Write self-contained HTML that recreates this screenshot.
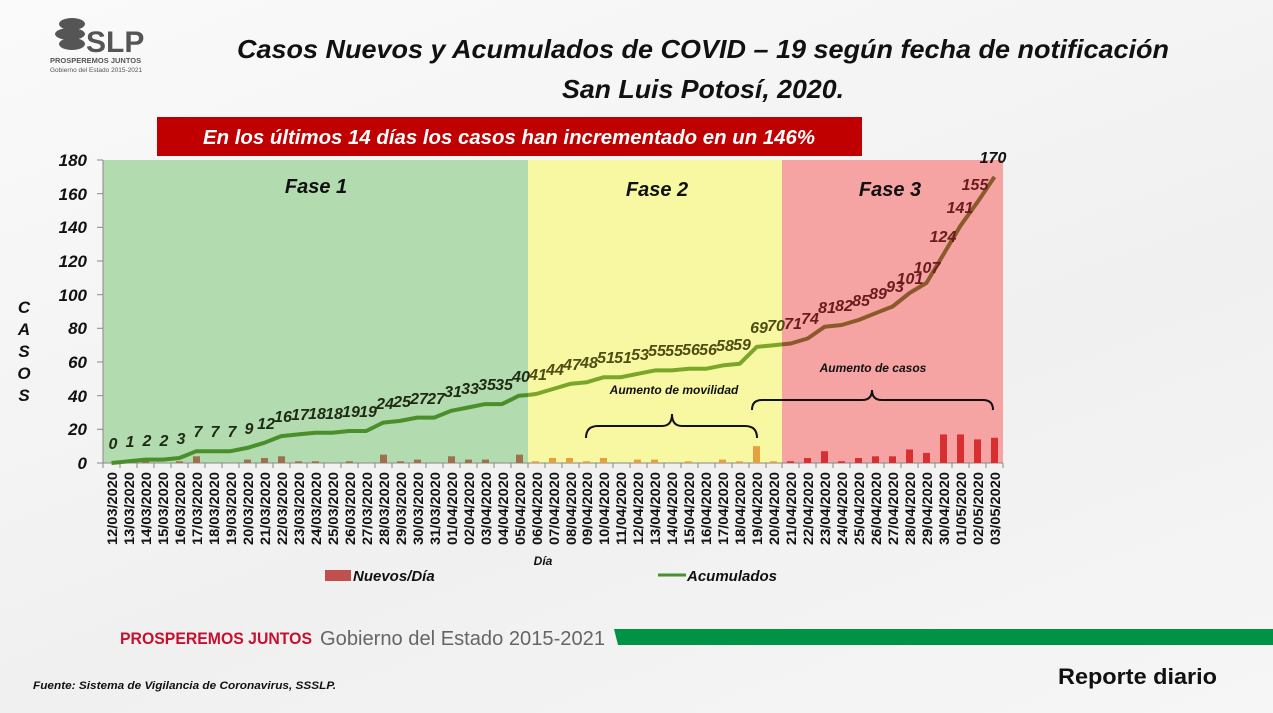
<!DOCTYPE html>
<html><head><meta charset="utf-8"><style>
body{margin:0;width:1273px;height:713px;overflow:hidden;background:linear-gradient(160deg,#fafafa,#f0f0f0 60%,#f6f6f6);font-family:"Liberation Sans",sans-serif;}
svg{position:absolute;left:0;top:0}
</style></head><body>
<svg width="1273" height="713" viewBox="0 0 1273 713" font-family="Liberation Sans, sans-serif">
<!-- logo -->
<g fill="#555">
<ellipse cx="72" cy="24" rx="13" ry="6"/><ellipse cx="70" cy="34" rx="15" ry="6"/><ellipse cx="72" cy="44" rx="13" ry="6"/>
<text x="86" y="52" font-size="30" font-weight="bold" fill="#555">SLP</text>
<text x="50" y="63" font-size="7.5" font-weight="bold">PROSPEREMOS JUNTOS</text>
<text x="50" y="72" font-size="6.5">Gobierno del Estado 2015-2021</text>
</g>
<!-- title -->
<text x="703" y="58" text-anchor="middle" font-size="26" font-weight="bold" font-style="italic" fill="#111" textLength="932" lengthAdjust="spacingAndGlyphs">Casos Nuevos y Acumulados de COVID – 19 según fecha de notificación</text>
<text x="703" y="98" text-anchor="middle" font-size="26" font-weight="bold" font-style="italic" fill="#111" textLength="282" lengthAdjust="spacingAndGlyphs">San Luis Potosí, 2020.</text>
<rect x="157" y="117" width="705" height="39" fill="#c00000"/>
<text x="509" y="144" text-anchor="middle" font-size="20" font-weight="bold" font-style="italic" fill="#fff" textLength="612" lengthAdjust="spacingAndGlyphs">En los últimos 14 días los casos han incrementado en un 146%</text>
<!-- phases -->
<rect x="103" y="160" width="425" height="303" fill="#b3dbb0"/>
<rect x="528" y="160" width="254" height="303" fill="#f8f8a2"/>
<rect x="782" y="160" width="221" height="303" fill="#f5a3a3"/>
<text x="316" y="193" text-anchor="middle" font-size="20" font-weight="bold" font-style="italic" fill="#111">Fase 1</text>
<text x="657" y="196" text-anchor="middle" font-size="20" font-weight="bold" font-style="italic" fill="#111">Fase 2</text>
<text x="890" y="196" text-anchor="middle" font-size="20" font-weight="bold" font-style="italic" fill="#111">Fase 3</text>
<!-- axes -->
<g stroke="#888" stroke-width="1">
<line x1="103" y1="160" x2="103" y2="463"/><line x1="103" y1="463" x2="1003" y2="463"/>
<line x1="97" y1="160" x2="103" y2="160"/><line x1="97" y1="193.7" x2="103" y2="193.7"/><line x1="97" y1="227.3" x2="103" y2="227.3"/><line x1="97" y1="261" x2="103" y2="261"/><line x1="97" y1="294.7" x2="103" y2="294.7"/><line x1="97" y1="328.3" x2="103" y2="328.3"/><line x1="97" y1="362" x2="103" y2="362"/><line x1="97" y1="395.7" x2="103" y2="395.7"/><line x1="97" y1="429.3" x2="103" y2="429.3"/><line x1="97" y1="463" x2="103" y2="463"/>
</g>
<path stroke="#888" stroke-width="1" d="M103,463v5M120,463v5M137,463v5M154,463v5M171,463v5M188,463v5M205,463v5M222,463v5M239,463v5M256,463v5M273,463v5M290,463v5M307,463v5M324,463v5M341,463v5M358,463v5M375,463v5M392,463v5M409,463v5M426,463v5M443,463v5M460,463v5M477,463v5M494,463v5M511,463v5M528,463v5M545,463v5M562,463v5M579,463v5M596,463v5M613,463v5M630,463v5M647,463v5M664,463v5M681,463v5M698,463v5M715,463v5M732,463v5M749,463v5M766,463v5M782,463v5M799,463v5M816,463v5M833,463v5M850,463v5M867,463v5M884,463v5M901,463v5M918,463v5M935,463v5M952,463v5M969,463v5M986,463v5M1003,463v5"/>
<g font-size="17" font-weight="bold" font-style="italic" text-anchor="end" fill="#111">
<text x="87" y="166">180</text><text x="87" y="200">160</text><text x="87" y="233">140</text><text x="87" y="267">120</text><text x="87" y="301">100</text><text x="87" y="334">80</text><text x="87" y="368">60</text><text x="87" y="402">40</text><text x="87" y="435">20</text><text x="87" y="469">0</text>
</g>
<g font-size="17" font-weight="bold" font-style="italic" text-anchor="middle" fill="#111">
<text x="24" y="313">C</text><text x="24" y="335">A</text><text x="24" y="357">S</text><text x="24" y="379">O</text><text x="24" y="401">S</text>
</g>
<!-- bars -->
<g fill="#a0704a">
<rect x="125" y="461.3" width="7" height="1.7"/><rect x="142" y="461.3" width="7" height="1.7"/><rect x="176" y="461.3" width="7" height="1.7"/><rect x="193" y="456.3" width="7" height="6.7"/><rect x="244" y="459.6" width="7" height="3.4"/><rect x="261" y="458" width="7" height="5"/><rect x="278" y="456.3" width="7" height="6.7"/><rect x="295" y="461.3" width="7" height="1.7"/><rect x="312" y="461.3" width="7" height="1.7"/><rect x="346" y="461.3" width="7" height="1.7"/><rect x="380" y="454.6" width="7" height="8.4"/><rect x="397" y="461.3" width="7" height="1.7"/><rect x="414" y="459.6" width="7" height="3.4"/><rect x="448" y="456.3" width="7" height="6.7"/><rect x="465" y="459.6" width="7" height="3.4"/><rect x="482" y="459.6" width="7" height="3.4"/><rect x="516" y="454.6" width="7" height="8.4"/>
</g>
<g fill="#e6a040">
<rect x="532" y="461.3" width="7" height="1.7"/><rect x="549" y="458" width="7" height="5"/><rect x="566" y="458" width="7" height="5"/><rect x="583" y="461.3" width="7" height="1.7"/><rect x="600" y="458" width="7" height="5"/><rect x="634" y="459.6" width="7" height="3.4"/><rect x="651" y="459.6" width="7" height="3.4"/><rect x="685" y="461.3" width="7" height="1.7"/><rect x="719" y="459.6" width="7" height="3.4"/><rect x="736" y="461.3" width="7" height="1.7"/><rect x="753" y="446.2" width="7" height="16.8"/><rect x="770" y="461.3" width="7" height="1.7"/>
</g>
<g fill="#d83030">
<rect x="787" y="461.3" width="7" height="1.7"/><rect x="804" y="458" width="7" height="5"/><rect x="821" y="451.2" width="7" height="11.8"/><rect x="838" y="461.3" width="7" height="1.7"/><rect x="855" y="458" width="7" height="5"/><rect x="872" y="456.3" width="7" height="6.7"/><rect x="889" y="456.3" width="7" height="6.7"/><rect x="906" y="449.5" width="7" height="13.5"/><rect x="923" y="452.9" width="7" height="10.1"/><rect x="940" y="434.4" width="7" height="28.6"/><rect x="957" y="434.4" width="7" height="28.6"/><rect x="974" y="439.4" width="7" height="23.6"/><rect x="991" y="437.8" width="7" height="25.2"/>
</g>
<!-- lines -->
<polyline fill="none" stroke="#4a8f2a" stroke-width="4" stroke-linejoin="round" points="111.5,463 128.5,461.3 145.5,459.6 162.4,459.6 179.4,458 196.4,451.2 213.4,451.2 230.4,451.2 247.3,447.9 264.3,442.8 281.3,436.1 298.3,434.4 315.3,432.7 332.2,432.7 349.2,431 366.2,431 383.2,422.6 400.2,420.9 417.1,417.6 434.1,417.6 451.1,410.8 468.1,407.5 485.1,404.1 502,404.1 519,395.7 528,395"/>
<polyline fill="none" stroke="#7aa62a" stroke-width="4" stroke-linejoin="round" points="528,395 536,394 553,389 570,383.9 586.9,382.2 603.9,377.2 620.9,377.2 637.9,373.8 654.9,370.4 671.8,370.4 688.8,368.8 705.8,368.8 722.8,365.4 739.8,363.7 756.7,346.9 773.7,345.2 782,344.4"/>
<polyline fill="none" stroke="#8a5a2a" stroke-width="4" stroke-linejoin="round" points="782,344.4 790.7,343.5 807.7,338.5 824.7,326.7 841.6,325 858.6,320 875.6,313.2 892.6,306.5 909.6,293 926.5,282.9 943.5,254.3 960.5,225.7 977.5,202.1 994.5,176.9"/>
<!-- value labels -->
<g font-size="16" font-weight="bold" font-style="italic" text-anchor="middle" fill="#1e2a14">
<text x="113" y="449">0</text><text x="130" y="447">1</text><text x="147" y="446">2</text><text x="164" y="446">2</text><text x="181" y="444">3</text><text x="198" y="437">7</text><text x="215" y="437">7</text><text x="232" y="437">7</text><text x="249" y="434">9</text><text x="266" y="429">12</text><text x="283" y="422">16</text><text x="300" y="420">17</text><text x="317" y="419">18</text><text x="334" y="419">18</text><text x="351" y="417">19</text><text x="368" y="417">19</text><text x="385" y="409">24</text><text x="402" y="407">25</text><text x="419" y="404">27</text><text x="436" y="404">27</text><text x="453" y="397">31</text><text x="470" y="394">33</text><text x="487" y="390">35</text><text x="504" y="390">35</text><text x="521" y="382">40</text>
</g>
<g font-size="16" font-weight="bold" font-style="italic" text-anchor="middle" fill="#4e4e14">
<text x="538" y="380">41</text><text x="555" y="375">44</text><text x="572" y="370">47</text><text x="589" y="368">48</text><text x="606" y="363">51</text><text x="623" y="363">51</text><text x="640" y="360">53</text><text x="657" y="356">55</text><text x="674" y="356">55</text><text x="691" y="355">56</text><text x="708" y="355">56</text><text x="725" y="351">58</text><text x="742" y="350">59</text><text x="759" y="333">69</text><text x="776" y="331">70</text>
</g>
<g font-size="16" font-weight="bold" font-style="italic" text-anchor="middle" fill="#6a1c1c">
<text x="793" y="329">71</text><text x="810" y="324">74</text><text x="827" y="313">81</text><text x="844" y="311">82</text><text x="861" y="306">85</text><text x="878" y="299">89</text><text x="895" y="292">93</text><text x="910" y="284">101</text><text x="927" y="273">107</text><text x="943" y="242">124</text><text x="960" y="213">141</text><text x="975" y="190">155</text><text x="993" y="163" fill="#111">170</text>
</g>
<!-- braces -->
<path d="M586,438 Q586,426 598,426 L662,426 Q672,426 672,414 Q672,426 682,426 L745,426 Q757,426 757,438" fill="none" stroke="#111" stroke-width="2"/>
<text x="674" y="394" text-anchor="middle" font-size="12" font-weight="bold" font-style="italic" fill="#111">Aumento de movilidad</text>
<path d="M752,410 Q752,400 762,400 L862,400 Q872,400 872,390 Q872,400 882,400 L983,400 Q993,400 993,410" fill="none" stroke="#111" stroke-width="2"/>
<text x="873" y="372" text-anchor="middle" font-size="12" font-weight="bold" font-style="italic" fill="#111">Aumento de casos</text>
<!-- date labels -->
<g font-size="14" font-weight="bold" fill="#111" text-anchor="end">
<text transform="translate(117,472) rotate(-90)" textLength="73" lengthAdjust="spacingAndGlyphs">12/03/2020</text><text transform="translate(134,472) rotate(-90)" textLength="73" lengthAdjust="spacingAndGlyphs">13/03/2020</text><text transform="translate(151,472) rotate(-90)" textLength="73" lengthAdjust="spacingAndGlyphs">14/03/2020</text><text transform="translate(168,472) rotate(-90)" textLength="73" lengthAdjust="spacingAndGlyphs">15/03/2020</text><text transform="translate(185,472) rotate(-90)" textLength="73" lengthAdjust="spacingAndGlyphs">16/03/2020</text><text transform="translate(202,472) rotate(-90)" textLength="73" lengthAdjust="spacingAndGlyphs">17/03/2020</text><text transform="translate(219,472) rotate(-90)" textLength="73" lengthAdjust="spacingAndGlyphs">18/03/2020</text><text transform="translate(236,472) rotate(-90)" textLength="73" lengthAdjust="spacingAndGlyphs">19/03/2020</text><text transform="translate(253,472) rotate(-90)" textLength="73" lengthAdjust="spacingAndGlyphs">20/03/2020</text><text transform="translate(270,472) rotate(-90)" textLength="73" lengthAdjust="spacingAndGlyphs">21/03/2020</text><text transform="translate(287,472) rotate(-90)" textLength="73" lengthAdjust="spacingAndGlyphs">22/03/2020</text><text transform="translate(304,472) rotate(-90)" textLength="73" lengthAdjust="spacingAndGlyphs">23/03/2020</text><text transform="translate(321,472) rotate(-90)" textLength="73" lengthAdjust="spacingAndGlyphs">24/03/2020</text><text transform="translate(338,472) rotate(-90)" textLength="73" lengthAdjust="spacingAndGlyphs">25/03/2020</text><text transform="translate(355,472) rotate(-90)" textLength="73" lengthAdjust="spacingAndGlyphs">26/03/2020</text><text transform="translate(372,472) rotate(-90)" textLength="73" lengthAdjust="spacingAndGlyphs">27/03/2020</text><text transform="translate(389,472) rotate(-90)" textLength="73" lengthAdjust="spacingAndGlyphs">28/03/2020</text><text transform="translate(406,472) rotate(-90)" textLength="73" lengthAdjust="spacingAndGlyphs">29/03/2020</text><text transform="translate(423,472) rotate(-90)" textLength="73" lengthAdjust="spacingAndGlyphs">30/03/2020</text><text transform="translate(440,472) rotate(-90)" textLength="73" lengthAdjust="spacingAndGlyphs">31/03/2020</text><text transform="translate(457,472) rotate(-90)" textLength="73" lengthAdjust="spacingAndGlyphs">01/04/2020</text><text transform="translate(474,472) rotate(-90)" textLength="73" lengthAdjust="spacingAndGlyphs">02/04/2020</text><text transform="translate(491,472) rotate(-90)" textLength="73" lengthAdjust="spacingAndGlyphs">03/04/2020</text><text transform="translate(508,472) rotate(-90)" textLength="73" lengthAdjust="spacingAndGlyphs">04/04/2020</text><text transform="translate(525,472) rotate(-90)" textLength="73" lengthAdjust="spacingAndGlyphs">05/04/2020</text><text transform="translate(542,472) rotate(-90)" textLength="73" lengthAdjust="spacingAndGlyphs">06/04/2020</text><text transform="translate(559,472) rotate(-90)" textLength="73" lengthAdjust="spacingAndGlyphs">07/04/2020</text><text transform="translate(576,472) rotate(-90)" textLength="73" lengthAdjust="spacingAndGlyphs">08/04/2020</text><text transform="translate(592,472) rotate(-90)" textLength="73" lengthAdjust="spacingAndGlyphs">09/04/2020</text><text transform="translate(609,472) rotate(-90)" textLength="73" lengthAdjust="spacingAndGlyphs">10/04/2020</text><text transform="translate(626,472) rotate(-90)" textLength="73" lengthAdjust="spacingAndGlyphs">11/04/2020</text><text transform="translate(643,472) rotate(-90)" textLength="73" lengthAdjust="spacingAndGlyphs">12/04/2020</text><text transform="translate(660,472) rotate(-90)" textLength="73" lengthAdjust="spacingAndGlyphs">13/04/2020</text><text transform="translate(677,472) rotate(-90)" textLength="73" lengthAdjust="spacingAndGlyphs">14/04/2020</text><text transform="translate(694,472) rotate(-90)" textLength="73" lengthAdjust="spacingAndGlyphs">15/04/2020</text><text transform="translate(711,472) rotate(-90)" textLength="73" lengthAdjust="spacingAndGlyphs">16/04/2020</text><text transform="translate(728,472) rotate(-90)" textLength="73" lengthAdjust="spacingAndGlyphs">17/04/2020</text><text transform="translate(745,472) rotate(-90)" textLength="73" lengthAdjust="spacingAndGlyphs">18/04/2020</text><text transform="translate(762,472) rotate(-90)" textLength="73" lengthAdjust="spacingAndGlyphs">19/04/2020</text><text transform="translate(779,472) rotate(-90)" textLength="73" lengthAdjust="spacingAndGlyphs">20/04/2020</text><text transform="translate(796,472) rotate(-90)" textLength="73" lengthAdjust="spacingAndGlyphs">21/04/2020</text><text transform="translate(813,472) rotate(-90)" textLength="73" lengthAdjust="spacingAndGlyphs">22/04/2020</text><text transform="translate(830,472) rotate(-90)" textLength="73" lengthAdjust="spacingAndGlyphs">23/04/2020</text><text transform="translate(847,472) rotate(-90)" textLength="73" lengthAdjust="spacingAndGlyphs">24/04/2020</text><text transform="translate(864,472) rotate(-90)" textLength="73" lengthAdjust="spacingAndGlyphs">25/04/2020</text><text transform="translate(881,472) rotate(-90)" textLength="73" lengthAdjust="spacingAndGlyphs">26/04/2020</text><text transform="translate(898,472) rotate(-90)" textLength="73" lengthAdjust="spacingAndGlyphs">27/04/2020</text><text transform="translate(915,472) rotate(-90)" textLength="73" lengthAdjust="spacingAndGlyphs">28/04/2020</text><text transform="translate(932,472) rotate(-90)" textLength="73" lengthAdjust="spacingAndGlyphs">29/04/2020</text><text transform="translate(949,472) rotate(-90)" textLength="73" lengthAdjust="spacingAndGlyphs">30/04/2020</text><text transform="translate(966,472) rotate(-90)" textLength="73" lengthAdjust="spacingAndGlyphs">01/05/2020</text><text transform="translate(983,472) rotate(-90)" textLength="73" lengthAdjust="spacingAndGlyphs">02/05/2020</text><text transform="translate(1000,472) rotate(-90)" textLength="73" lengthAdjust="spacingAndGlyphs">03/05/2020</text>
</g>
<text x="543" y="565" text-anchor="middle" font-size="12" font-weight="bold" font-style="italic" fill="#111">Día</text>
<!-- legend -->
<rect x="325" y="570" width="26" height="11" fill="#c0504d"/>
<text x="353" y="581" font-size="15" font-weight="bold" font-style="italic" fill="#111">Nuevos/Día</text>
<line x1="658" y1="575" x2="686" y2="575" stroke="#4a8f2a" stroke-width="3"/>
<text x="687" y="581" font-size="15" font-weight="bold" font-style="italic" fill="#111">Acumulados</text>
<!-- footer -->
<text x="120" y="644" font-size="17" font-weight="bold" fill="#c8102e" textLength="192" lengthAdjust="spacingAndGlyphs">PROSPEREMOS JUNTOS</text>
<text x="320" y="645" font-size="20" fill="#666" textLength="285" lengthAdjust="spacingAndGlyphs">Gobierno del Estado 2015-2021</text>
<polygon points="614,629 1273,629 1273,645 618,645" fill="#009245"/>
<text x="33" y="689" font-size="11" font-weight="bold" font-style="italic" fill="#111" textLength="303" lengthAdjust="spacingAndGlyphs">Fuente: Sistema de Vigilancia de Coronavirus, SSSLP.</text>
<text x="1058" y="684" font-size="22" font-weight="bold" fill="#111" textLength="159" lengthAdjust="spacingAndGlyphs">Reporte diario</text>
</svg>
</body></html>
